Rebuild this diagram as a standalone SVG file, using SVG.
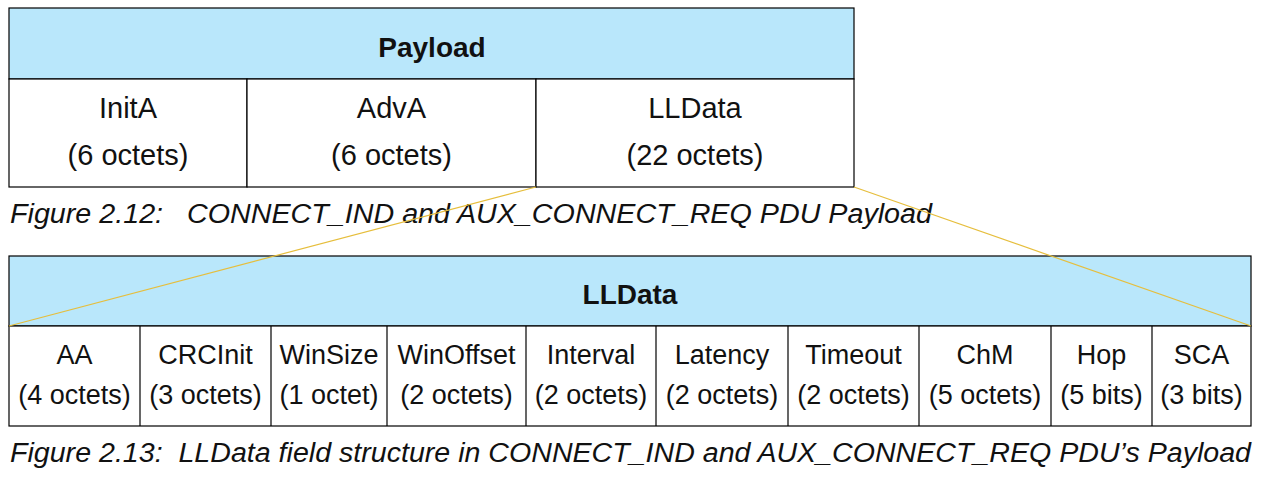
<svg xmlns="http://www.w3.org/2000/svg" width="1267" height="479" viewBox="0 0 1267 479">
<style>
.box{fill:#ffffff;stroke:#000000;stroke-width:1.2}
.hdr{fill:#B9E7FB;stroke:#000000;stroke-width:1.2}
.t{font-family:"Liberation Sans",Arial,sans-serif;fill:#111111;text-anchor:middle}
.top{font-size:29px}
.bot{font-size:27px}
.b{font-weight:bold;font-size:28px}
.cap{font-family:"Liberation Sans",Arial,sans-serif;font-style:italic;font-size:27px;fill:#111111}
.div{stroke:#000000;stroke-width:1.2}
.conn{stroke:#E6BE3C;stroke-width:1.2;fill:none}
</style>
<rect width="1267" height="479" fill="#ffffff"/>
<g id="payload">
<rect class="hdr" x="9" y="8" width="845" height="71"/>
<text class="t b" x="432" y="57">Payload</text>
</g>
<g id="initA">
<rect class="box" x="9" y="79" width="238" height="108"/>
<text class="t top" x="128" y="118">InitA</text>
<text class="t top" x="128" y="165">(6 octets)</text>
</g>
<g id="advA">
<rect class="box" x="247" y="79" width="289" height="108"/>
<text class="t top" x="391.5" y="118">AdvA</text>
<text class="t top" x="391.5" y="165">(6 octets)</text>
</g>
<g id="lldata-field">
<rect class="box" x="536" y="79" width="318" height="108"/>
<text class="t top" x="695" y="118">LLData</text>
<text class="t top" x="695" y="165">(22 octets)</text>
</g>
<text id="caption1" class="cap" x="10" y="223" textLength="922" lengthAdjust="spacingAndGlyphs" xml:space="preserve">Figure 2.12:   CONNECT_IND and AUX_CONNECT_REQ PDU Payload</text>
<g id="lldata">
<rect class="hdr" x="9" y="256" width="1242" height="70"/>
<text class="t b" x="630" y="304">LLData</text>
</g>
<g id="fields">
<rect class="box" x="9" y="326" width="1242" height="100"/>
<line class="div" x1="140" y1="326" x2="140" y2="426"/>
<line class="div" x1="271" y1="326" x2="271" y2="426"/>
<line class="div" x1="387" y1="326" x2="387" y2="426"/>
<line class="div" x1="526" y1="326" x2="526" y2="426"/>
<line class="div" x1="656" y1="326" x2="656" y2="426"/>
<line class="div" x1="788" y1="326" x2="788" y2="426"/>
<line class="div" x1="919" y1="326" x2="919" y2="426"/>
<line class="div" x1="1051" y1="326" x2="1051" y2="426"/>
<line class="div" x1="1152" y1="326" x2="1152" y2="426"/>
</g>
<g id="aa"><text class="t bot" x="74.5" y="364">AA</text><text class="t bot" x="74.5" y="404">(4 octets)</text></g>
<g id="crcinit"><text class="t bot" x="205.5" y="364">CRCInit</text><text class="t bot" x="205.5" y="404">(3 octets)</text></g>
<g id="winsize"><text class="t bot" x="329" y="364">WinSize</text><text class="t bot" x="329" y="404">(1 octet)</text></g>
<g id="winoffset"><text class="t bot" x="456.5" y="364">WinOffset</text><text class="t bot" x="456.5" y="404">(2 octets)</text></g>
<g id="interval"><text class="t bot" x="591" y="364">Interval</text><text class="t bot" x="591" y="404">(2 octets)</text></g>
<g id="latency"><text class="t bot" x="722" y="364">Latency</text><text class="t bot" x="722" y="404">(2 octets)</text></g>
<g id="timeout"><text class="t bot" x="853.5" y="364">Timeout</text><text class="t bot" x="853.5" y="404">(2 octets)</text></g>
<g id="chm"><text class="t bot" x="985" y="364">ChM</text><text class="t bot" x="985" y="404">(5 octets)</text></g>
<g id="hop"><text class="t bot" x="1101.5" y="364">Hop</text><text class="t bot" x="1101.5" y="404">(5 bits)</text></g>
<g id="sca"><text class="t bot" x="1201.5" y="364">SCA</text><text class="t bot" x="1201.5" y="404">(3 bits)</text></g>
<text id="caption2" class="cap" x="10" y="462" textLength="1241" lengthAdjust="spacingAndGlyphs" xml:space="preserve">Figure 2.13:  LLData field structure in CONNECT_IND and AUX_CONNECT_REQ PDU’s Payload</text>
<g id="connectors">
<line class="conn" x1="536" y1="187" x2="9" y2="326"/>
<line class="conn" x1="854" y1="187" x2="1251" y2="326"/>
</g>
</svg>
